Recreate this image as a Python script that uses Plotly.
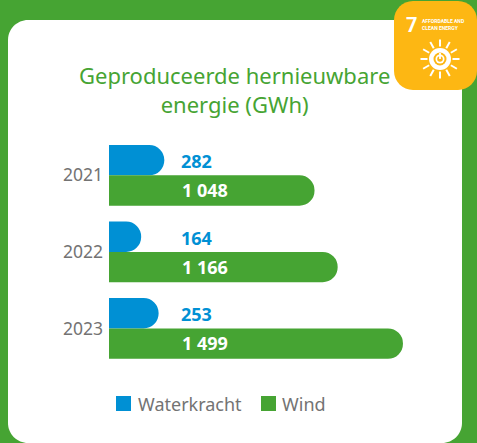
import math
import plotly.graph_objects as go

years = ["2021", "2022", "2023"]
waterkracht = [282, 164, 253]
wind = [1048, 1166, 1499]
water_labels = ["282", "164", "253"]
wind_labels = ["1 048", "1 166", "1 499"]
title = "Geproduceerde hernieuwbare<br>energie (GWh)"

W, H = 477, 443
GREEN, BLUE, YELLOW, GREY = "#46a433", "#0090d4", "#fdb713", "#737373"
FONT = "Noto Sans"


def px(x):
    return x / W


def py(y):
    return 1 - y / H


def rrect(x0, y0, x1, y1, r):
    k = r * 0.45
    pts = [
        ("M", x0 + r, y0), ("L", x1 - r, y0),
        ("C", x1 - k, y0, x1, y0 + k, x1, y0 + r), ("L", x1, y1 - r),
        ("C", x1, y1 - k, x1 - k, y1, x1 - r, y1), ("L", x0 + r, y1),
        ("C", x0 + k, y1, x0, y1 - k, x0, y1 - r), ("L", x0, y0 + r),
        ("C", x0, y0 + k, x0 + k, y0, x0 + r, y0),
    ]
    out = []
    for p in pts:
        coords = p[1:]
        s = " ".join(f"{px(coords[i]):.5f},{py(coords[i + 1]):.5f}" for i in range(0, len(coords), 2))
        out.append(f"{p[0]} {s}")
    return " ".join(out) + " Z"


def pshape(path, fill):
    return dict(type="path", xref="paper", yref="paper", path=path, fillcolor=fill, line_width=0, layer="below")


def pline(x0, y0, x1, y1, color, width):
    return dict(type="line", xref="paper", yref="paper", x0=px(x0), y0=py(y0), x1=px(x1), y1=py(y1),
                line=dict(color=color, width=width), layer="below")


def pcircle(cx, cy, r, fill):
    return dict(type="circle", xref="paper", yref="paper", x0=px(cx - r), x1=px(cx + r), y0=py(cy + r), y1=py(cy - r),
                fillcolor=fill, line_width=0, layer="below")


def prect(x0, y0, x1, y1, fill):
    return dict(type="rect", xref="paper", yref="paper", x0=px(x0), x1=px(x1), y0=py(y1), y1=py(y0),
                fillcolor=fill, line_width=0, layer="below")


def ptext(x, y, text, size, color, xanchor="center", family=FONT, align="center"):
    return dict(x=px(x), y=py(y), xref="paper", yref="paper", xanchor=xanchor, yanchor="middle", align=align,
                text=text, showarrow=False, font=dict(family=family, size=size, color=color))


fig = go.Figure()
fig.add_bar(name="Waterkracht", y=years, x=waterkracht, orientation="h", marker=dict(color=BLUE, line_width=0))
fig.add_bar(name="Wind", y=years, x=wind, orientation="h", marker=dict(color=GREEN, line_width=0))

shapes = [pshape(rrect(8, 20, 462, 443, 20), "white"), pshape(rrect(394, 1, 477, 90, 19), YELLOW)]
cx, cy = 440, 59
for i in range(12):
    a = math.radians(i * 30)
    shapes.append(pline(cx + 12.5 * math.sin(a), cy - 12.5 * math.cos(a), cx + 19.5 * math.sin(a), cy - 19.5 * math.cos(a), "white", 2))
shapes += [pcircle(cx, cy, 11, "white"), pcircle(cx, cy, 6.5, YELLOW), pcircle(cx, cy, 4.5, "white"), pcircle(cx, cy, 2.8, YELLOW),
           pline(cx, cy - 6, cx, cy, "white", 1.8)]
shapes += [prect(116, 396, 131, 411, BLUE), prect(261, 396, 276, 411, GREEN)]

ann = [
    ptext(234, 89.5, title, 22, GREEN),
    ptext(135.5, 404, "Waterkracht", 18, GREY, "left"),
    ptext(279.5, 404, "Wind", 18, GREY, "left"),
    ptext(411.5, 25, "<b>7</b>", 20, "white", family="Roboto"),
    ptext(420, 24.5, "<b>AFFORDABLE AND<br>CLEAN ENERGY</b>", 5, "white", "left", family="Roboto", align="left"),
]
for i, (a, b) in enumerate(zip(water_labels, wind_labels)):
    ann.append(dict(x=445, y=i, xref="x", yref="y", yshift=14, text=f"<b>{a}</b>", showarrow=False,
                    font=dict(family=FONT, size=18, color=BLUE)))
    ann.append(dict(x=490, y=i, xref="x", yref="y", yshift=-15, text=f"<b>{b}</b>", showarrow=False,
                    font=dict(family=FONT, size=18, color="white")))

fig.update_layout(
    width=W, height=H, margin=dict(l=0, r=0, t=0, b=0, pad=0, autoexpand=False), paper_bgcolor=GREEN, plot_bgcolor="rgba(0,0,0,0)",
    barmode="group", bargap=0.207, bargroupgap=0, barcornerradius=15, showlegend=False,
    shapes=shapes, annotations=ann,
    xaxis=dict(domain=[px(109), px(462)], range=[0, 1800], visible=False),
    yaxis=dict(domain=[py(366.7), py(137.1)], type="category", categoryorder="array", categoryarray=years,
               range=[2.5, -0.5], showgrid=False, zeroline=False, showline=False, ticks="",
               ticklabelstandoff=5, tickfont=dict(family=FONT, size=17.5, color=GREY)),
)
fig.write_html("out.html", config=dict(displayModeBar=False),
               post_script="document.body.style.margin='0';document.body.style.background='#46a433';")
